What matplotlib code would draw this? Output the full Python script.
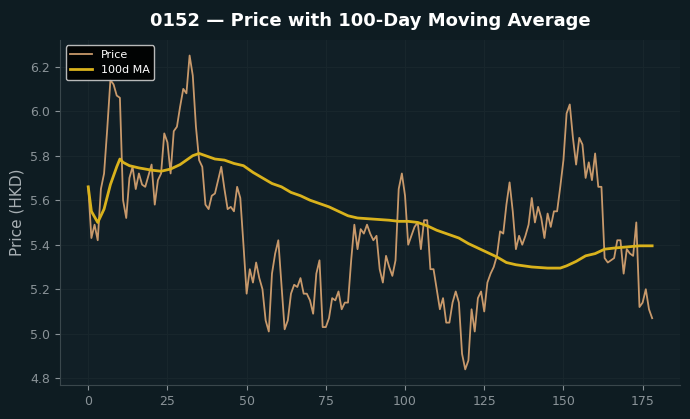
import matplotlib
matplotlib.use("Agg")
import matplotlib.pyplot as plt

price = [
    5.66, 5.43, 5.49, 5.42, 5.65, 5.72, 5.92, 6.14, 6.12, 6.07,
    6.06, 5.60, 5.52, 5.70, 5.75, 5.65, 5.72, 5.67, 5.66, 5.71,
    5.76, 5.58, 5.69, 5.72, 5.90, 5.86, 5.72, 5.91, 5.93, 6.02,
    6.10, 6.08, 6.25, 6.16, 5.93, 5.78, 5.75, 5.58, 5.56, 5.62,
    5.63, 5.69, 5.75, 5.65, 5.56, 5.57, 5.55, 5.66, 5.61, 5.40,
    5.18, 5.29, 5.23, 5.32, 5.25, 5.20, 5.06, 5.01, 5.27, 5.36,
    5.42, 5.22, 5.02, 5.06, 5.18, 5.22, 5.21, 5.25, 5.18, 5.18,
    5.15, 5.09, 5.27, 5.33, 5.03, 5.03, 5.07, 5.16, 5.15, 5.19,
    5.11, 5.14, 5.14, 5.33, 5.49, 5.38, 5.47, 5.45, 5.49, 5.45,
    5.42, 5.44, 5.29, 5.23, 5.35, 5.30, 5.26, 5.33, 5.65, 5.72,
    5.62, 5.40, 5.44, 5.48, 5.50, 5.38, 5.51, 5.51, 5.29, 5.29,
    5.20, 5.11, 5.16, 5.05, 5.05, 5.14, 5.19, 5.14, 4.91, 4.84,
    4.88, 5.11, 5.01, 5.16, 5.19, 5.10, 5.23, 5.27, 5.30, 5.35,
    5.46, 5.45, 5.58, 5.68, 5.55, 5.38, 5.44, 5.40, 5.44, 5.49,
    5.61, 5.50, 5.57, 5.52, 5.43, 5.54, 5.48, 5.55, 5.55, 5.66,
    5.78, 5.99, 6.03, 5.88, 5.76, 5.88, 5.85, 5.70, 5.77, 5.69,
    5.81, 5.66, 5.66, 5.34, 5.32, 5.33, 5.34, 5.42, 5.42, 5.27,
    5.38, 5.36, 5.35, 5.50, 5.12, 5.14, 5.20, 5.11, 5.07,
]

ma_days = [0, 1, 3, 5, 7, 9, 10, 11, 13, 16, 20, 23, 26, 29, 31, 33, 35, 37,
           40, 43, 46, 49, 52, 55, 58, 61, 64, 67, 70, 73, 76, 79, 82, 85,
           90, 95, 98, 101, 104, 107, 110, 113, 117, 120, 123, 126, 129, 132,
           135, 140, 145, 149, 151, 154, 157, 160, 163, 166, 170, 174, 178]
ma_vals = [5.66, 5.55, 5.50, 5.56, 5.67, 5.75, 5.785, 5.77, 5.755, 5.745,
           5.735, 5.73, 5.74, 5.76, 5.78, 5.80, 5.81, 5.80, 5.785, 5.78,
           5.765, 5.755, 5.725, 5.70, 5.675, 5.66, 5.635, 5.62, 5.60, 5.585,
           5.57, 5.55, 5.53, 5.52, 5.515, 5.51, 5.505, 5.505, 5.50, 5.485,
           5.465, 5.45, 5.43, 5.405, 5.385, 5.365, 5.345, 5.32, 5.31, 5.30,
           5.295, 5.295, 5.305, 5.325, 5.35, 5.36, 5.38, 5.385, 5.39, 5.395,
           5.395]

bg = "#0e1c22"
ax_bg = "#111f26"
fg = "#a8b0b4"

fig = plt.figure(figsize=(6.9, 4.19), dpi=100, facecolor=bg)
ax = fig.add_axes([0.087, 0.081, 0.899, 0.824], facecolor=ax_bg)

ax.plot(range(len(price)), price, color="#c8996b", lw=1.3, label="Price")
ax.plot(ma_days, ma_vals, color="#d9b21c", lw=2.0, label="100d MA")

ax.set_title("0152 — Price with 100-Day Moving Average", color="white",
             fontsize=13, fontweight="bold", pad=10)
ax.set_ylabel("Price (HKD)", color=fg, fontsize=11)
ax.set_xticks([0, 25, 50, 75, 100, 125, 150, 175])
ax.set_yticks([4.8, 5.0, 5.2, 5.4, 5.6, 5.8, 6.0, 6.2])
ax.tick_params(colors="#8a9398", labelsize=9)
ax.grid(True, color="#18262c", lw=0.8)
ax.set_axisbelow(True)
for s in ["top", "right"]:
    ax.spines[s].set_visible(False)
for s in ["left", "bottom"]:
    ax.spines[s].set_color("#3a474c")

leg = ax.legend(loc="upper left", fontsize=8, facecolor="black",
                edgecolor="#cccccc", labelcolor="white", framealpha=0.9)

fig.savefig("out.png", facecolor=bg)
